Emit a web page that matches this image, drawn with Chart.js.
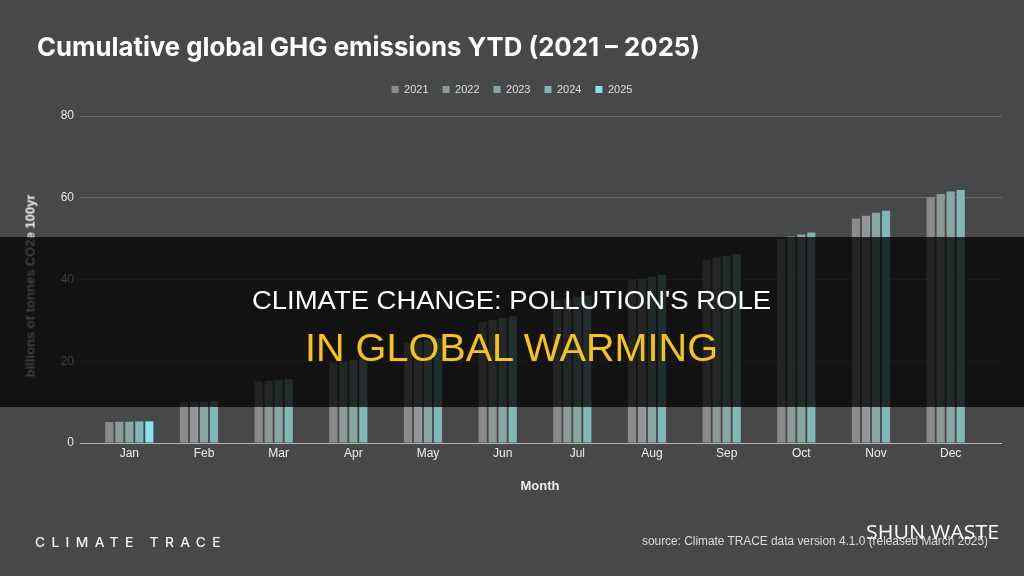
<!DOCTYPE html>
<html>
<head>
<meta charset="utf-8">
<script src="https://cdn.jsdelivr.net/npm/chart.js@4/dist/chart.umd.min.js"></script>
<style>
  html, body { margin:0; padding:0; background:#47484a; width:1024px; height:576px; overflow:hidden; }
  #wrap { position:relative; width:1024px; height:576px; }
  #c { position:absolute; left:0; top:0; }
  .t { position:absolute; white-space:nowrap; transform-origin:0 0; line-height:1; }
  #ytitle { position:absolute; left:30px; top:286px; white-space:nowrap; line-height:1;
            transform:translate(-50%,-50%) rotate(-90deg); transform-origin:50% 50%;
            font-family:'Liberation Sans',Arial,sans-serif; font-weight:700; font-size:13px; color:#f0f0f0; }
  #band { position:absolute; left:0; top:237px; width:1024px; height:170px; background:rgba(0,0,0,0.75); }
</style>
</head>
<body>
<div id="wrap">
  <canvas id="c" width="1024" height="576"></canvas>
  <div id="ytitle">billions of tonnes CO2e 100yr</div>
  <div class="t" id="title" style="font-family:Inter,'Liberation Sans',sans-serif;font-weight:700;font-size:26px;color:#ffffff;">Cumulative global GHG emissions YTD (2021 – 2025)</div>
  <div id="band"></div>
  <div class="t" id="h1" style="font-family:'Liberation Sans Narrow','Liberation Sans',Arial,sans-serif;font-size:25px;color:#ffffff;">CLIMATE CHANGE: POLLUTION'S ROLE</div>
  <div class="t" id="h2" style="font-family:'Liberation Sans Narrow','Liberation Sans',Arial,sans-serif;font-size:39.5px;color:#f6c21c;">IN GLOBAL WARMING</div>
  <div class="t" id="logo" style="font-family:Inter,'Liberation Sans',sans-serif;font-weight:500;font-size:13px;letter-spacing:6px;color:#f2f2f2;">CLIMATE TRACE</div>
  <div class="t" id="src" style="font-family:'Liberation Sans',Arial,sans-serif;font-size:13px;color:#dcdcdc;">source: Climate TRACE data version 4.1.0 (released March 2025)</div>
  <div class="t" id="wm" style="font-family:'Open Sans','Liberation Sans',sans-serif;font-size:20px;color:#ffffff;">SHUN WASTE</div>
</div>
<script>
const months = ['Jan','Feb','Mar','Apr','May','Jun','Jul','Aug','Sep','Oct','Nov','Dec'];
const years = ['2021','2022','2023','2024','2025'];
const y2021 = [5.1, 9.9, 15.0, 19.6, 24.5, 29.6, 34.9, 39.8, 44.8, 49.9, 54.9, 60.1];
const y2022 = [5.2, 10.0, 15.2, 19.9, 24.9, 30.1, 35.3, 40.2, 45.4, 50.5, 55.6, 60.9];
const y2023 = [5.2, 10.1, 15.4, 20.3, 25.3, 30.6, 35.8, 40.7, 45.8, 51.0, 56.3, 61.5];
const y2024 = [5.3, 10.2, 15.6, 20.5, 25.6, 31.0, 36.1, 41.1, 46.2, 51.5, 56.8, 61.9];
const y2025 = [5.3, null, null, null, null, null, null, null, null, null, null, null];
const yTicks = [0, 20, 40, 60, 80];
const colors = ['#8a8a8a', '#8e9896', '#88a7a2', '#80b8b6', '#86e4ec'];
const series = [y2021, y2022, y2023, y2024, y2025];

const gridColor = ctx => (ctx.tick && ctx.tick.value === 0) ? '#b4b4b4' : '#666769';

const legendHeightFix = {
  id: 'legendHeightFix',
  beforeInit(chart) {
    const orig = chart.legend.fit;
    chart.legend.fit = function() {
      orig.call(this);
      this.height = 116 - 70;
    };
  }
};

new Chart(document.getElementById('c'), {
  type: 'bar',
  data: {
    labels: months,
    datasets: years.map((y, i) => ({
      label: y,
      data: series[i],
      backgroundColor: colors[i],
      borderWidth: 0,
      categoryPercentage: 0.67,
      barPercentage: 0.82
    }))
  },
  options: {
    responsive: false,
    animation: false,
    layout: { padding: { top: 70, left: 0, right: 0, bottom: 80 } },
    plugins: {
      legend: {
        position: 'top',
        align: 'center',
        labels: {
          boxWidth: 7, boxHeight: 7, padding: 14,
          color: '#dddddd',
          font: { family: "'Liberation Sans', Arial, sans-serif", size: 11 }
        }
      },
      tooltip: { enabled: false },
      title: { display: false }
    },
    scales: {
      x: {
        grid: { display: false, drawTicks: false },
        border: { display: false },
        ticks: { color: '#eeeeee', padding: 3, font: { family: "'Liberation Sans', Arial, sans-serif", size: 12 } },
        title: { display: true, text: 'Month', color: '#eeeeee', padding: { top: 0, bottom: 2 },
                 font: { family: "'Liberation Sans', Arial, sans-serif", size: 13, weight: 'bold' } },
        afterFit: s => { s.height = 53; }
      },
      y: {
        position: 'left',
        min: 0, max: 80,
        afterBuildTicks: s => { s.ticks = yTicks.map(v => ({ value: v })); },
        ticks: { color: '#e6e6e6', padding: 6, font: { family: "'Liberation Sans', Arial, sans-serif", size: 12 } },
        grid: { color: gridColor, tickLength: 12, drawTicks: true, lineWidth: 1 },
        border: { display: false },
        title: { display: false },
        afterFit: s => { s.width = 92; }
      },
      y2: {
        position: 'right',
        min: 0, max: 80,
        afterBuildTicks: s => { s.ticks = yTicks.map(v => ({ value: v })); },
        ticks: { display: false },
        grid: { color: gridColor, tickLength: 14, drawTicks: true, lineWidth: 1 },
        border: { display: false },
        afterFit: s => { s.width = 36; }
      }
    }
  },
  plugins: [legendHeightFix]
});

function place(id, left, top, width, center) {
  const el = document.getElementById(id);
  el.style.transform = 'none';
  el.style.left = '0px'; el.style.top = top + 'px';
  const w = el.getBoundingClientRect().width;
  const sx = width / w;
  const x = center ? left - width / 2 : left;
  el.style.left = x + 'px';
  el.style.transform = 'scaleX(' + sx + ')';
}
function layoutTexts() {
  place('title', 37, 34, 663, false);
  place('h1', 511.5, 287.8, 519, true);
  place('h2', 511.5, 328.2, 413, true);
  place('logo', 35, 535.5, 192, false);
  place('src', 642, 533.7, 346, false);
  place('wm', 866, 522.4, 133, false);
}
layoutTexts();
if (document.fonts && document.fonts.ready) document.fonts.ready.then(layoutTexts);
</script>
</body>
</html>
